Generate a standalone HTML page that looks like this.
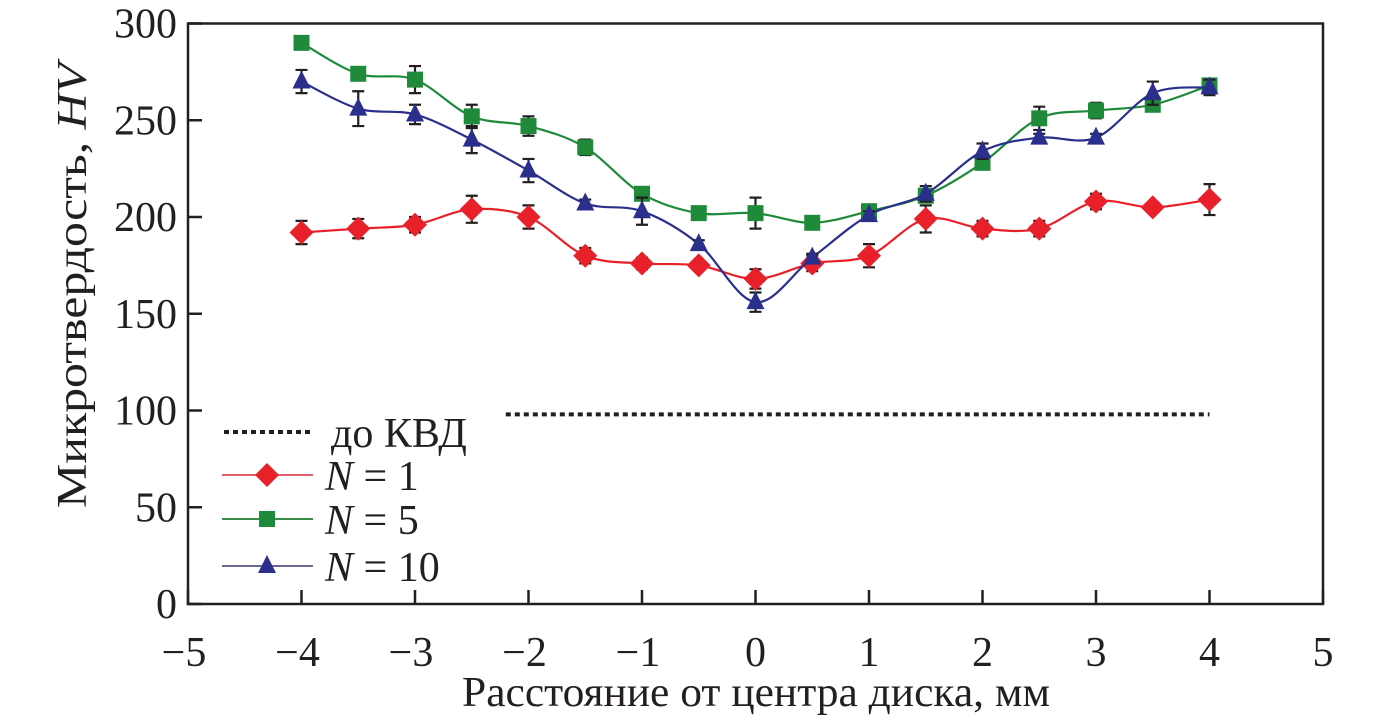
<!DOCTYPE html>
<html><head><meta charset="utf-8"><style>
html,body{margin:0;padding:0;background:#fff}
svg text{font-family:"Liberation Serif",serif;fill:#231f20}
</style></head><body>
<svg id="chart" width="1380" height="720" viewBox="0 0 1380 720" xmlns="http://www.w3.org/2000/svg">
<g id="axes"></g>
<g id="series"></g>
<g id="legend"></g>
</svg>
<script>
const xs = [-4,-3.5,-3,-2.5,-2,-1.5,-1,-0.5,0,0.5,1,1.5,2,2.5,3,3.5,4];
const n1 = [192,194,196,204,200,180,176,175,168,176,180,199,194,194,208,205,209];
const n1err = [6,5,4,7,6,4,3,2,5,4,6,7,4,4,4,2,8];
const n5 = [290,274,271,252,247,236,212,202,202,197,203,211,228,251,255,258,268];
const n5err = [3,3,7,6,5,4,3,2,8,3,2,3,2,6,4,2,2];
const n10 = [270,256,253,240,224,207,203,186,156,179,201,212,234,241,241,264,267];
const n10err = [6,9,5,7,6,2,7,2,5,2,2,4,4,2,2,6,4];
const baselineX = [-2.2, 4.0];
const baselineY = 98;
const xTicks = [-5,-4,-3,-2,-1,0,1,2,3,4,5];
const yTicks = [0,50,100,150,200,250,300];

const NS='http://www.w3.org/2000/svg';
const L=188,R=1323,T=23.5,B=604;
const FS=42;
const sx=v=>L+(v+5)/10*(R-L);
const sy=v=>B-v/300*(B-T);
function mk(tag,attrs,parent){const e=document.createElementNS(NS,tag);for(const k in attrs)e.setAttribute(k,attrs[k]);parent.appendChild(e);return e;}
const axes=document.getElementById('axes'),series=document.getElementById('series'),legend=document.getElementById('legend');

const frame=mk('rect',{x:L,y:T,width:R-L,height:B-T,fill:'none',stroke:'#231f20','stroke-width':2.5},axes);


xTicks.forEach(v=>{
  const t=mk('line',{x1:sx(v),x2:sx(v),y1:B,y2:B-14,stroke:'#231f20','stroke-width':2.5},axes);
  
  
  const lb=mk('text',{x:sx(v)-(v<0?4:0),y:666,'text-anchor':'middle','font-size':FS},axes);
  
  
  lb.textContent=v<0?'\u2212'+(-v):String(v);
});
yTicks.forEach(v=>{
  const t=mk('line',{x1:L,x2:L+14,y1:sy(v),y2:sy(v),stroke:'#231f20','stroke-width':2.5},axes);
  
  
  const lb=mk('text',{x:177,y:sy(v)+14,'text-anchor':'end','font-size':FS},axes);
  
  
  lb.textContent=String(v);
});
const xt=mk('text',{x:462,y:706,'font-size':FS,textLength:588,lengthAdjust:'spacingAndGlyphs'},axes);


xt.textContent='Расстояние от центра диска, мм';
const yt=mk('text',{x:0,y:0,'font-size':FS,textLength:445,lengthAdjust:'spacingAndGlyphs',transform:'translate(86,508) rotate(-90)'},axes);


yt.innerHTML='Микротвердость, <tspan font-style="italic">HV</tspan>';

const bl=mk('line',{x1:sx(baselineX[0]),x2:sx(baselineX[1]),y1:sy(baselineY),y2:sy(baselineY),stroke:'#231f20','stroke-width':4,'stroke-dasharray':'5,4'},series);



function smooth(pts){let d='M'+pts[0][0]+','+pts[0][1];
  for(let i=0;i<pts.length-1;i++){const p0=pts[Math.max(0,i-1)],p1=pts[i],p2=pts[i+1],p3=pts[Math.min(pts.length-1,i+2)];
    d+=' C'+(p1[0]+(p2[0]-p0[0])/6)+','+(p1[1]+(p2[1]-p0[1])/6)+' '+(p2[0]-(p3[0]-p1[0])/6)+','+(p2[1]-(p3[1]-p1[1])/6)+' '+p2[0]+','+p2[1];}
  return d;}
function marker(shape,x,y,color,parent){
  let m;
  if(shape==='diamond')m=mk('polygon',{points:`${x},${y-12} ${x+12},${y} ${x},${y+12} ${x-12},${y}`,fill:color},parent);
  else if(shape==='square')m=mk('rect',{x:x-8,y:y-8,width:16,height:16,fill:color},parent);
  else m=mk('polygon',{points:`${x},${y-11} ${x+9},${y+7} ${x-9},${y+7}`,fill:color},parent);
  return m;
}
function drawSeries(vals,errs,color,shape,name){
  const g=mk('g',{},series);
  
  
  const pts=xs.map((x,i)=>[sx(x),sy(vals[i])]);
  const p=mk('path',{d:smooth(pts),fill:'none',stroke:color,'stroke-width':2.2},g);
  
  
  xs.forEach((x,i)=>{
    const cx=sx(x),y1=sy(vals[i]+errs[i]),y2=sy(vals[i]-errs[i]);
    const e=mk('path',{d:`M${cx},${y1}V${y2}M${cx-6},${y1}H${cx+6}M${cx-6},${y2}H${cx+6}`,stroke:'#231f20','stroke-width':2.2,fill:'none'},g);
    
    
    const m=marker(shape,cx,sy(vals[i]),color,g);
    
    
  });
}
drawSeries(n1,n1err,'#e8202a','diamond','series-n1');
drawSeries(n5,n5err,'#1f8a3a','square','series-n5');
drawSeries(n10,n10err,'#2b2f8c','triangle','series-n10');

const lgItems=[['dash',null,'#231f20',432,'до КВД'],['diamond','#e8202a','#e06070',475,'1'],['square','#1f8a3a','#3a8a4a',519,'5'],['triangle','#2b2f8c','#6a6a90',566,'10']];
lgItems.forEach(it=>{
  const g=mk('g',{},legend);
  
  
  if(it[0]==='dash'){mk('line',{x1:224,x2:312,y1:it[3],y2:it[3],stroke:'#231f20','stroke-width':4,'stroke-dasharray':'5,4'},g);
    const t=mk('text',{x:331,y:it[3]+15,'font-size':FS},g);t.textContent=it[4];}
  else{mk('line',{x1:222,x2:313,y1:it[3],y2:it[3],stroke:it[2],'stroke-width':2},g);
    marker(it[0],267,it[3],it[1],g);
    const t=mk('text',{x:325,y:it[3]+15,'font-size':FS},g);
    t.innerHTML='<tspan font-style="italic">N</tspan> = '+it[4];}
});
</script>
</body></html>
